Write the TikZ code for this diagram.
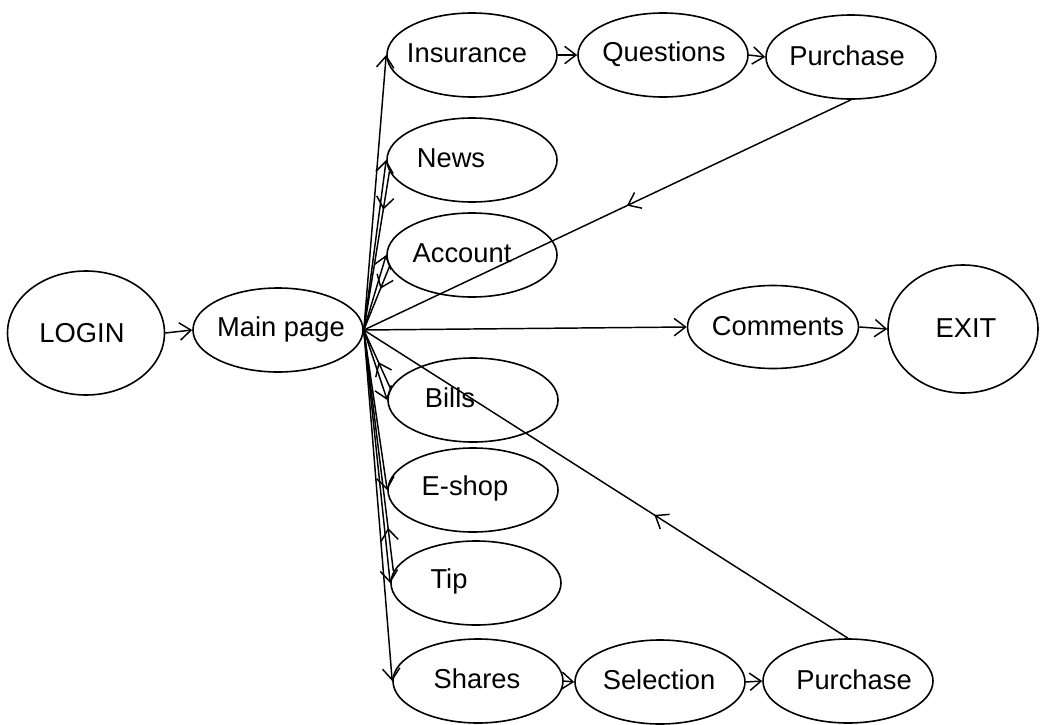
\documentclass[tikz,border=0pt]{standalone}
\usepackage{fontspec}
\setmainfont{Liberation Sans}
\usetikzlibrary{arrows.meta,calc,shapes.geometric,decorations.markings}

\begin{document}
\begin{tikzpicture}[x=0.75pt,y=-0.75pt,
  page/.style={draw, ellipse, inner sep=0pt, line width=1.2pt,
               minimum width=127.5pt, minimum height=63pt},
  lbl/.style={font=\fontsize{20.5}{24}\selectfont, inner sep=0pt},
  flow/.style={draw, line width=1.1pt, -{Straight Barb[length=8.5pt,width=13pt]}},
  back/.style={draw, line width=1.1pt, postaction={decorate},
               decoration={markings,
                 mark=at position #1 with {\arrow{Straight Barb[length=8.5pt,width=13pt]}}}}
]
\useasboundingbox (0,0) rectangle (1040,725);

% pages
\node[page, minimum width=117.75pt, minimum height=93pt] (login) at (86,333) {};
\node[lbl] (login-t) at (82,333) {LOGIN};
\node[page] (main) at (278,330) {};
\node[lbl] (main-t) at (281,329) {Main page};

\node[page] (insurance) at (472,55) {};
\node[lbl] (insurance-t) at (467,53) {Insurance};
\node[page] (questions) at (663,55) {};
\node[lbl] (questions-t) at (664,54) {Questions};
\node[page] (purchaseA) at (851,57) {};
\node[lbl] (purchaseA-t) at (847,56) {Purchase};

\node[page] (news) at (472,160) {};
\node[lbl] (news-t) at (451,158) {News};
\node[page] (account) at (472,255) {};
\node[lbl] (account-t) at (462,253) {Account};

\node[page, minimum width=128.25pt, minimum height=62.25pt] (comments) at (773,327) {};
\node[lbl] (comments-t) at (778,326) {Comments};
\node[page, minimum width=112.5pt, minimum height=96pt] (exit) at (963,329) {};
\node[lbl] (exit-t) at (966,328) {EXIT};

\node[page] (bills) at (473,400) {};
\node[lbl] (bills-t) at (450,398) {Bills};
\node[page] (eshop) at (473,490) {};
\node[lbl] (eshop-t) at (465,488) {E-shop};
\node[page] (tip) at (476,583) {};
\node[lbl] (tip-t) at (449,581) {Tip};

\node[page] (shares) at (478,681) {};
\node[lbl] (shares-t) at (477,679) {Shares};
\node[page] (selection) at (660,682) {};
\node[lbl] (selection-t) at (659,680) {Selection};
\node[page] (purchaseB) at (848,681) {};
\node[lbl] (purchaseB-t) at (854,680) {Purchase};

% links
\coordinate (hub) at (main.east);
\draw[flow] (login.east) -- (main.west);

\draw[flow] (hub) -- (insurance.west);
\draw[flow] (hub) -- (news.west);
\draw[back=0.24] (news.188) -- (hub);
\draw[flow] (hub) -- (account.west);
\draw[back=0.35] (account.188) -- (hub);
\draw[flow] (hub) -- (comments.west);
\draw[flow] (hub) -- (bills.west);
\draw[back=0.45] (bills.172) -- (hub);
\draw[flow] (hub) -- (eshop.west);
\draw[flow] (hub) -- (tip.west);
\draw[back=0.18] (tip.172) -- (hub);
\draw[flow] (hub) -- (shares.west);

\draw[flow] (insurance.east) -- (questions.west);
\draw[flow] (questions.east) -- (purchaseA.west);
\draw[flow] (shares.east) -- (selection.west);
\draw[flow] (selection.east) -- (purchaseB.west);
\draw[flow] (comments.east) -- (exit.west);

\draw[back=0.46] (purchaseA.south) -- (hub);
\draw[back=0.40] (purchaseB.north) -- (hub);
\end{tikzpicture}
\end{document}
